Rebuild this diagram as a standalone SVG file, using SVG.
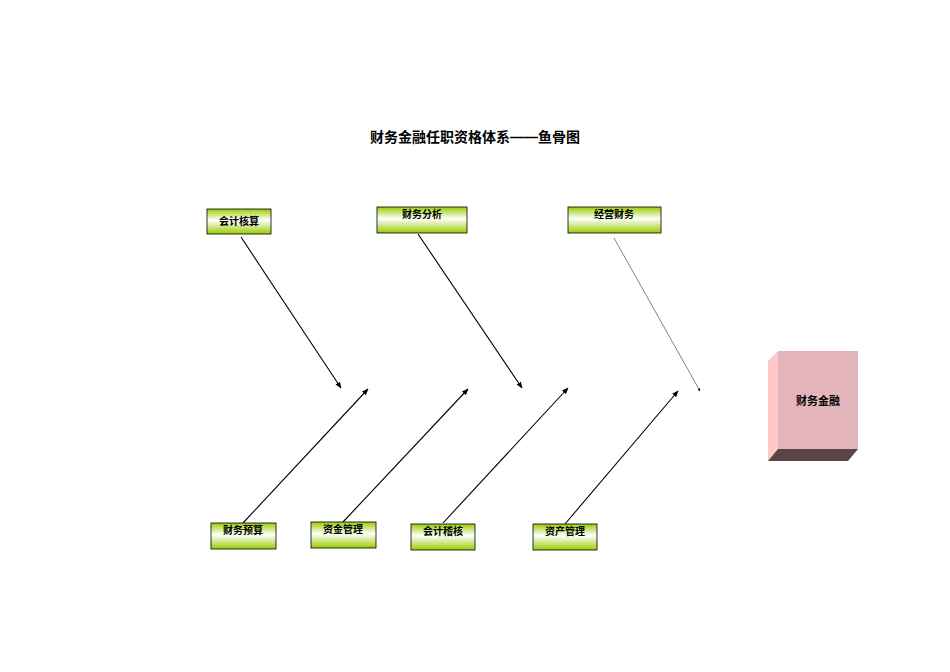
<svg xmlns="http://www.w3.org/2000/svg" width="950" height="672" viewBox="0 0 950 672">
<style>
.b{stroke:#000;stroke-width:0.8;fill:url(#g)}
.t{font-family:"Liberation Sans","Noto Sans CJK SC",sans-serif;font-size:10px;font-weight:bold;text-anchor:middle}
.c line{stroke:#000;stroke-width:1.1;marker-end:url(#a)}
</style>
<defs>
<linearGradient id="g" x1="0" y1="0" x2="0" y2="1">
<stop offset="0" stop-color="#99cc00"/><stop offset="0.45" stop-color="#ffffff"/><stop offset="1" stop-color="#99cc00"/>
</linearGradient>
<marker id="a" viewBox="0 0 10 10" refX="9" refY="5" markerWidth="6" markerHeight="6" orient="auto"><path d="M0,1 L10,5 L0,9z"/></marker>
</defs>
<rect width="950" height="672" fill="#fff"/>
<text x="475" y="142" class="t" style="font-size:14px">财务金融任职资格体系——鱼骨图</text>
<g class="c">
<line x1="241" y1="237" x2="341" y2="388"/>
<line x1="418" y1="234" x2="522" y2="388"/>
<line x1="614" y1="238" x2="700" y2="391" style="stroke-width:0.5"/>
<line x1="243" y1="523" x2="368" y2="389"/>
<line x1="343" y1="522" x2="468" y2="389"/>
<line x1="443" y1="523" x2="568" y2="388"/>
<line x1="565" y1="524" x2="678" y2="391"/>
</g>
<g id="n1"><rect class="b" x="207" y="209" width="64" height="25"/><text class="t" x="239" y="225">会计核算</text></g>
<g id="n2"><rect class="b" x="377" y="207" width="90" height="26"/><text class="t" x="422" y="218">财务分析</text></g>
<g id="n3"><rect class="b" x="568" y="207" width="93" height="26"/><text class="t" x="614" y="218">经营财务</text></g>
<g id="n4"><rect class="b" x="211" y="523" width="65" height="26"/><text class="t" x="243" y="534">财务预算</text></g>
<g id="n5"><rect class="b" x="311" y="522" width="65" height="26"/><text class="t" x="343" y="533">资金管理</text></g>
<g id="n6"><rect class="b" x="411" y="524" width="64" height="26"/><text class="t" x="443" y="535">会计稽核</text></g>
<g id="n7"><rect class="b" x="533" y="524" width="64" height="26"/><text class="t" x="565" y="535">资产管理</text></g>
<g id="n8">
<polygon points="768,361 778,351 778,449 768,461" fill="#ffc8c8"/>
<polygon points="768,461 778,449 858,449 848,461" fill="#5a4446"/>
<rect x="778" y="351" width="80" height="98" fill="#e3b5bb"/>
<text class="t" x="818" y="405" style="font-size:11px">财务金融</text>
</g>
</svg>
